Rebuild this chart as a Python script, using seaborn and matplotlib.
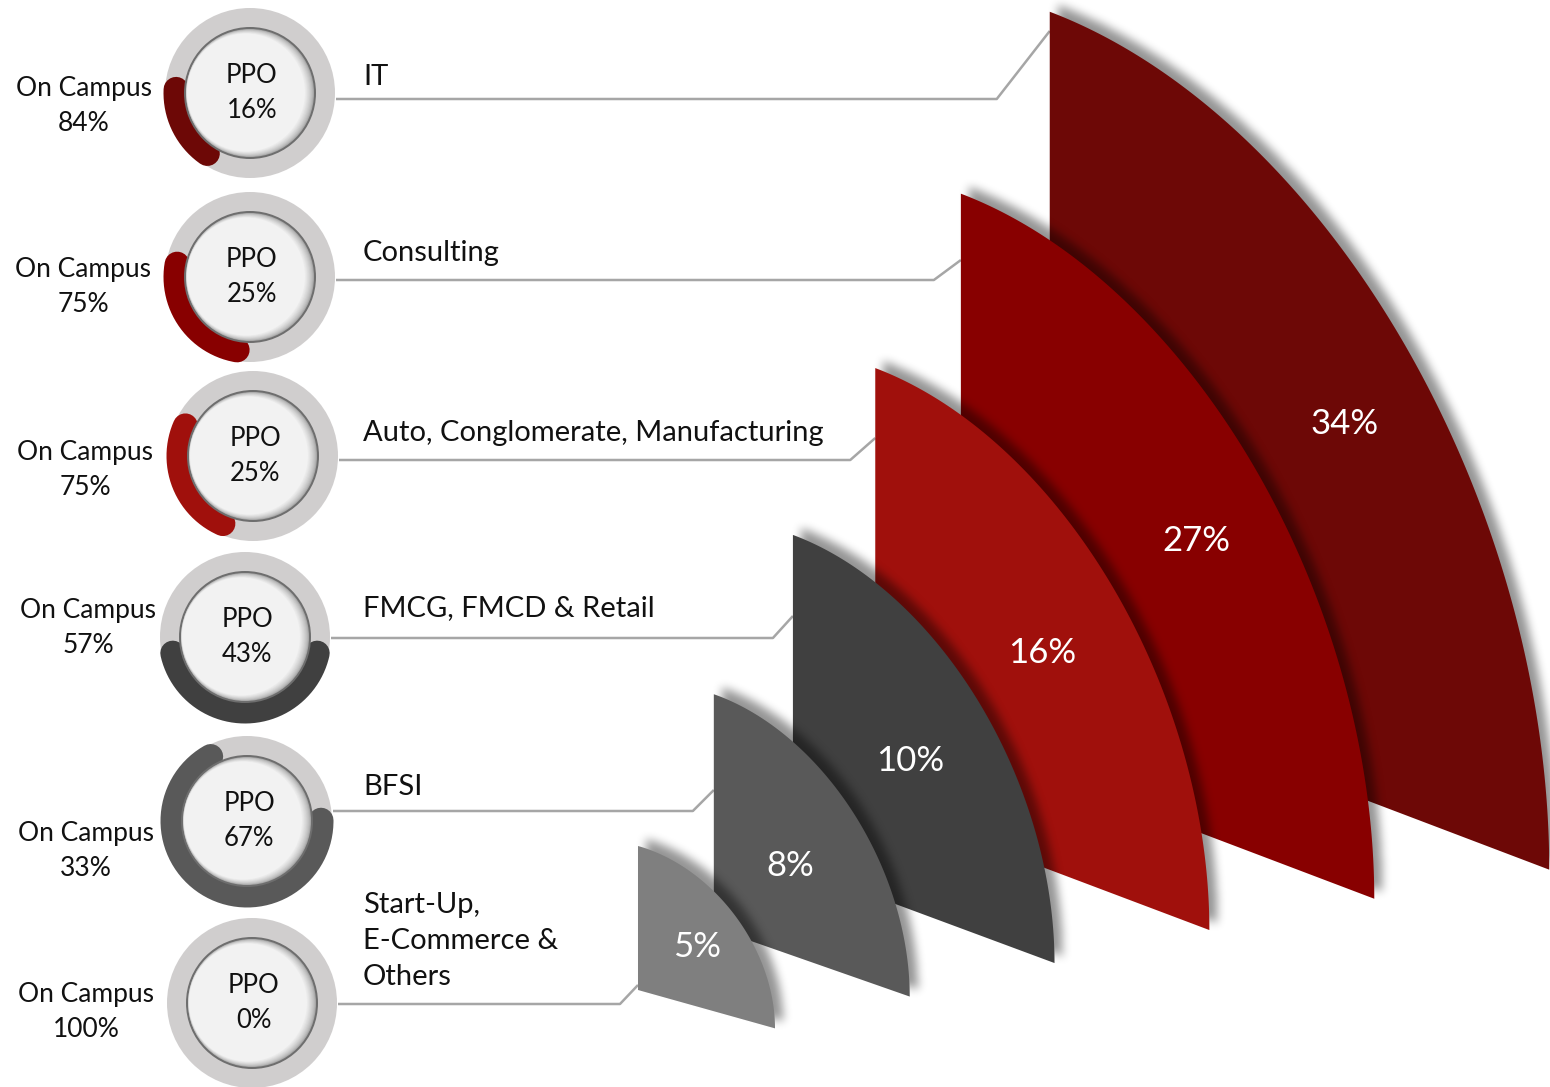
import numpy as np
import matplotlib
matplotlib.use("Agg")
import matplotlib.pyplot as plt
from matplotlib.path import Path
from matplotlib.patches import PathPatch, Circle
import seaborn as sns

# data
sectors = ["IT", "Consulting", "Auto, Conglomerate, Manufacturing",
           "FMCG, FMCD & Retail", "BFSI", "Start-Up,\nE-Commerce &\nOthers"]
share = [34, 27, 16, 10, 8, 5]
ppo = [16, 25, 25, 43, 67, 0]
on_campus = [84, 75, 75, 57, 33, 100]
colors = ["#6d0806", "#880000", "#a0100c", "#404040", "#595959", "#7f7f7f"]

# layout (pixel units of the canvas)
donut_x = [250, 250, 253, 245, 247, 252]
donut_y = [93, 277, 456, 637, 821, 1003]
arc_mid = [206, 215, 201, 270, 240, 0]
campus_x = [84, 83, 85, 88, 86, 86]
campus_y = [106, 287, 470, 628, 851, 1012]
name_y = [77, 253, 433, 608, 787, 941]
line_y = [99, 280, 460, 638, 811, 1004]
knee_dx = [53, 27, 25, 20, 21, 18]
knee_dy = [68, 20, 22, 22, 21, 19]
# label position inside each sector, by rank (smallest first)
label_fx = [0.43, 0.39, 0.45, 0.50, 0.57, 0.59]
label_fy = [0.41, 0.38, 0.45, 0.49, 0.53, 0.55]

sns.set_theme(style="white")
plt.rcParams["font.family"] = ["Lato", "DejaVu Sans"]

W, H = 1550, 1087
fig = plt.figure(figsize=(W / 100, H / 100), dpi=100)
ax = fig.add_axes([0, 0, 1, 1])
ax.set_xlim(0, W)
ax.set_ylim(H, 0)
ax.axis("off")


def box_blur(a, r, axis):
    pad = [(0, 0), (0, 0)]
    pad[axis] = (r + 1, r)
    c = np.cumsum(np.pad(a, pad), axis=axis)
    n = a.shape[axis]
    hi = np.take(c, np.arange(2 * r + 1, 2 * r + 1 + n), axis=axis)
    lo = np.take(c, np.arange(0, n), axis=axis)
    return (hi - lo) / (2 * r + 1)


def draw_shadow(verts, dx, dy, z, alpha=0.42, r=4):
    # soft drop shadow: rasterise the shape, blur it, show as translucent black
    v = np.asarray(verts) + [dx, dy]
    x0, y0 = np.floor(v.min(axis=0)) - 25
    x1, y1 = np.ceil(v.max(axis=0)) + 25
    xs = np.arange(x0, x1) + 0.5
    ys = np.arange(y0, y1) + 0.5
    gx, gy = np.meshgrid(xs, ys)
    m = Path(v).contains_points(np.column_stack([gx.ravel(), gy.ravel()]))
    m = m.reshape(gx.shape).astype(float)
    for _ in range(3):
        m = box_blur(m, r, 0)
        m = box_blur(m, r, 1)
    img = np.zeros(m.shape + (4,))
    img[..., 3] = m * alpha
    ax.imshow(img, extent=(x0, x1, y1, y0), zorder=z, interpolation="bilinear", aspect="auto")


# fan of sectors, sized by rank of share
rank = np.argsort(np.argsort(share))
t = np.linspace(0, np.pi / 2, 160)
left_x = {}
for k in np.argsort(share)[::-1]:
    i = rank[k]
    x0 = 638 + 74.2 * i + 1.63 * i ** 2
    yc = 990 - 62 * i
    top = 846 - 148 * i - 3.77 * i ** 2
    w = 137 + 55.5 * i + 3.4 * i ** 2
    s = 0.38 - 0.1 * 0.3 ** i
    R = np.array([w, w * s])
    U = np.array([0, top - yc])
    C = np.array([x0, yc])
    arc = C + np.outer(np.cos(t), R) + np.outer(np.sin(t), U)
    verts = np.vstack([C, arc, C])
    z = 10 + (5 - i) * 3
    draw_shadow(verts, 8, -7, z)
    ax.add_patch(PathPatch(Path(verts), facecolor=colors[k], edgecolor="none", zorder=z + 1))
    px = x0 + label_fx[i] * w
    py = yc + label_fx[i] * w * s + label_fy[i] * (top - yc)
    ax.text(px, py, f"{share[k]}%", color="white", fontsize=25,
            ha="center", va="center", zorder=60)
    left_x[k] = x0

# donuts, connectors and labels
for k in range(len(sectors)):
    cx, cy = donut_x[k], donut_y[k]
    ax.add_patch(Circle((cx, cy), 85, color="#d0cece", zorder=3, lw=0))
    if ppo[k] > 0:
        span = ppo[k] * 3.6
        th = np.radians(np.linspace(arc_mid[k] - span / 2, arc_mid[k] + span / 2, 200))
        ax.plot(cx + 74 * np.cos(th), cy - 74 * np.sin(th), color=colors[k],
                lw=25 * 0.72, solid_capstyle="round", zorder=4)
    ax.add_patch(Circle((cx, cy), 66, color="#6e6e6e", zorder=5, lw=0))
    steps = 9
    for j in range(steps):
        a = j / (steps - 1)
        g = 0.66 + (0.949 - 0.66) * a ** 0.7
        ax.add_patch(Circle((cx - 4 * a, cy - 0.5 * a), 64 - 5 * a,
                            color=(g, g, g), zorder=6 + j * 0.01, lw=0))
    ax.text(cx + 2, cy, f"PPO\n{ppo[k]}%", fontsize=18.5, ha="center", va="center",
            color="#111111", linespacing=1.5, zorder=8)
    ax.text(campus_x[k], campus_y[k], f"On Campus\n{on_campus[k]}%", fontsize=19,
            ha="center", va="center", color="#111111", linespacing=1.48, zorder=8)
    ax.text(363, name_y[k], sectors[k], fontsize=21, ha="left", va="center",
            color="#111111", linespacing=1.46, zorder=8)
    xe = left_x[k]
    ax.plot([cx + 86, xe - knee_dx[k], xe], [line_y[k], line_y[k], line_y[k] - knee_dy[k]],
            color="#a6a6a6", lw=1.8, zorder=1, solid_capstyle="butt")

ax.set_xlim(0, W)
ax.set_ylim(H, 0)
fig.savefig("out.png", dpi=100, facecolor="white")
